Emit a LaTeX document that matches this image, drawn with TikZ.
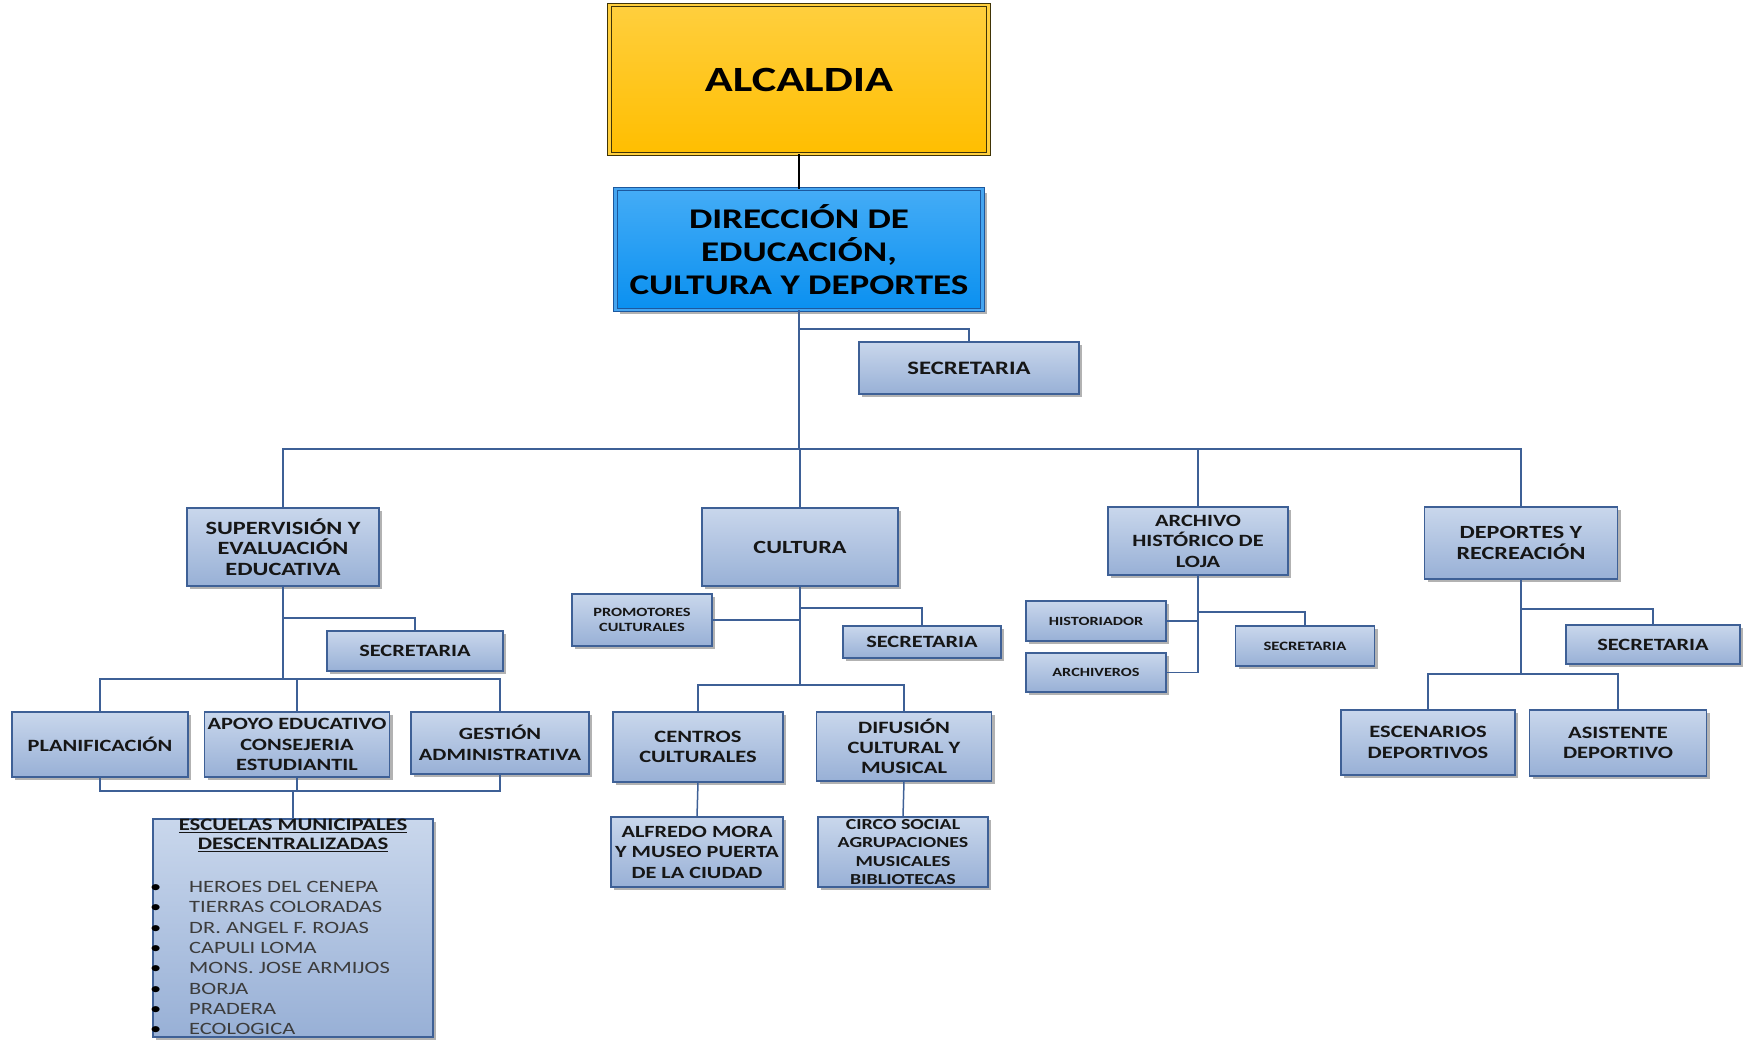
\documentclass[tikz,border=0pt]{standalone}
\usepackage{fontspec}
\setmainfont{Carlito}[FakeStretch=1.3]
\usetikzlibrary{shadows}

\definecolor{boxtop}{RGB}{201,215,236}
\definecolor{boxbot}{RGB}{152,176,214}
\definecolor{boxline}{RGB}{62,96,150}
\definecolor{linecol}{RGB}{62,96,150}
\definecolor{ink}{RGB}{22,22,22}
\definecolor{itemink}{RGB}{60,60,60}
\definecolor{goldtop}{RGB}{255,207,62}
\definecolor{goldbot}{RGB}{255,190,0}
\definecolor{goldline}{RGB}{64,52,6}
\definecolor{skytop}{RGB}{68,172,246}
\definecolor{skybot}{RGB}{10,144,240}
\definecolor{skyline}{RGB}{28,88,158}
\definecolor{skygap}{RGB}{70,165,240}

\newcommand{\fs}[2]{\fontsize{#1}{#2}\selectfont\bfseries}

\tikzset{
  box/.style={draw=boxline, line width=1.3pt, top color=boxtop, bottom color=boxbot,
    drop shadow={shadow xshift=3pt, shadow yshift=-3pt, fill=black, opacity=0.3},
    inner sep=0pt, outer sep=0pt, align=center, text=ink},
  conn/.style={draw=linecol, line width=1.5pt},
  alcbox/.style={draw=goldline, double=goldtop, double distance=2.2pt, line width=1pt,
    top color=goldtop, bottom color=goldbot, inner sep=0pt, outer sep=0pt,
    align=center, text=black},
  dirbox/.style={draw=skyline, double=skygap, double distance=2.4pt, line width=1pt,
    top color=skytop, bottom color=skybot, inner sep=0pt, outer sep=0pt,
    drop shadow={shadow xshift=4pt, shadow yshift=-4pt, fill=black, opacity=0.3},
    align=center, text=black},
}

\begin{document}
\begin{tikzpicture}[x=1pt, y=-1pt]
\useasboundingbox (0,0) rectangle (1748,1039);

% ---------- top levels ----------
\node[alcbox, minimum width=379pt, minimum height=149pt, font=\fs{35.5}{40}] (alc) at (799,79.5) {ALCALDIA};
\node[dirbox, minimum width=367pt, minimum height=121pt, font=\fs{28.5}{33}] (dir) at (799,249.5)
  {DIRECCIÓN DE\\EDUCACIÓN,\\CULTURA Y DEPORTES};
\node[box, minimum width=220pt, minimum height=52pt, font=\fs{19}{22}] (msec) at (969,368) {SECRETARIA};

% ---------- second level ----------
\node[box, minimum width=192pt, minimum height=78pt, font=\fs{18.7}{20.5}] (sup) at (283,547)
  {SUPERVISIÓN Y\\EVALUACIÓN\\EDUCATIVA};
\node[box, minimum width=196pt, minimum height=78pt, font=\fs{18.6}{21}] (cul) at (800,547) {CULTURA};
\node[box, minimum width=180pt, minimum height=68pt, font=\fs{17.2}{20.5}] (arc) at (1198,541)
  {ARCHIVO\\HISTÓRICO DE\\LOJA};
\node[box, minimum width=193pt, minimum height=72pt, font=\fs{18.6}{21}] (dep) at (1521,543)
  {DEPORTES Y\\RECREACIÓN};

% ---------- supervision branch ----------
\node[box, minimum width=176pt, minimum height=40pt, font=\fs{17.2}{20}] (ssec) at (415,651) {SECRETARIA};
\node[box, minimum width=176pt, minimum height=65pt, font=\fs{17.2}{20.5}] (plan) at (100,744.5) {PLANIFICACIÓN};
\node[box, minimum width=185pt, minimum height=65pt, font=\fs{17.2}{20.5}] (apoyo) at (297,744.5)
  {APOYO EDUCATIVO\\CONSEJERIA\\ESTUDIANTIL};
\node[box, minimum width=178pt, minimum height=62pt, font=\fs{17.2}{20.5}] (gest) at (500,743)
  {GESTIÓN\\ADMINISTRATIVA};
\node[box, minimum width=280pt, minimum height=218pt] (esc) at (293,928) {};
\node[font=\fs{17.5}{19}, align=center, text=ink, inner sep=0pt] (esct) at (293,835)
  {\underline{ESCUELAS MUNICIPALES}\\\underline{DESCENTRALIZADAS}};
\node[font=\fontsize{17.3}{20.3}\selectfont, align=left, text=itemink, inner sep=0pt, anchor=west] (escl) at (150,958)
  {\makebox[39pt][l]{\textcolor{black}{\textbullet}}HEROES DEL CENEPA\\
   \makebox[39pt][l]{\textcolor{black}{\textbullet}}TIERRAS COLORADAS\\
   \makebox[39pt][l]{\textcolor{black}{\textbullet}}DR. ANGEL F. ROJAS\\
   \makebox[39pt][l]{\textcolor{black}{\textbullet}}CAPULI LOMA\\
   \makebox[39pt][l]{\textcolor{black}{\textbullet}}MONS. JOSE ARMIJOS\\
   \makebox[39pt][l]{\textcolor{black}{\textbullet}}BORJA\\
   \makebox[39pt][l]{\textcolor{black}{\textbullet}}PRADERA\\
   \makebox[39pt][l]{\textcolor{black}{\textbullet}}ECOLOGICA};

% ---------- culture branch ----------
\node[box, minimum width=140pt, minimum height=52pt, font=\fs{12.6}{15}] (prom) at (642,620)
  {PROMOTORES\\CULTURALES};
\node[box, minimum width=158pt, minimum height=32pt, font=\fs{17.2}{20}] (csec) at (922,642) {SECRETARIA};
\node[box, minimum width=170pt, minimum height=70pt, font=\fs{17.3}{20.5}] (cen) at (698,747)
  {CENTROS\\CULTURALES};
\node[box, minimum width=175pt, minimum height=69pt, font=\fs{17.3}{20}] (dif) at (904,746.5)
  {DIFUSIÓN\\CULTURAL Y\\MUSICAL};
\node[box, minimum width=172pt, minimum height=70pt, font=\fs{17.1}{20.5}] (alf) at (697,852)
  {ALFREDO MORA\\Y MUSEO PUERTA\\DE LA CIUDAD};
\node[box, minimum width=170pt, minimum height=70pt, font=\fs{15.3}{18.3}] (circ) at (903,852)
  {CIRCO SOCIAL\\AGRUPACIONES\\MUSICALES\\BIBLIOTECAS};

% ---------- archive branch ----------
\node[box, minimum width=140pt, minimum height=40pt, font=\fs{12.5}{15}] (his) at (1096,621) {HISTORIADOR};
\node[box, minimum width=140pt, minimum height=39pt, font=\fs{12.5}{15}] (arv) at (1096,672.5) {ARCHIVEROS};
\node[box, minimum width=139pt, minimum height=40pt, font=\fs{12.8}{15}] (asec) at (1305,646) {SECRETARIA};

% ---------- sports branch ----------
\node[box, minimum width=174pt, minimum height=39pt, font=\fs{17.2}{20}] (dsec) at (1653,644.5) {SECRETARIA};
\node[box, minimum width=174pt, minimum height=65pt, font=\fs{17.3}{20.5}] (esce) at (1428,742.5)
  {ESCENARIOS\\DEPORTIVOS};
\node[box, minimum width=177pt, minimum height=66pt, font=\fs{17.3}{20.5}] (asis) at (1618,743)
  {ASISTENTE\\DEPORTIVO};

% ---------- junction levels ----------
\coordinate (ymain) at (0,449);
\coordinate (ymsec) at (0,329);
\coordinate (ysbus) at (0,679);
\coordinate (yssec) at (0,618);
\coordinate (ybbus) at (0,791);
\coordinate (ycbus) at (0,685);
\coordinate (ycsec) at (0,608);
\coordinate (yasec) at (0,612);
\coordinate (ydbus) at (0,674);
\coordinate (ydsec) at (0,609);

% ---------- connectors ----------
\draw[black, line width=1.3pt] (alc.south) -- (dir.north);
\draw[conn] (dir.south) -- (dir.south |- ymain);
\draw[conn] (dir.south |- ymsec) -| (msec.north);
\draw[conn] (sup.north) |- (dep.north |- ymain) -- (dep.north);
\draw[conn] (cul.north) -- (cul.north |- ymain);
\draw[conn] (arc.north) -- (arc.north |- ymain);

\draw[conn] (sup.south) -- (sup.south |- ysbus);
\draw[conn] (sup.south |- yssec) -| (ssec.north);
\draw[conn] (plan.north) |- (gest.north |- ysbus) -- (gest.north);
\draw[conn] (apoyo.north) -- (apoyo.north |- ysbus);
\draw[conn] (plan.south) |- (gest.south |- ybbus) -- (gest.south);
\draw[conn] (apoyo.south) -- (apoyo.south |- ybbus);
\draw[conn] (esc.north) -- (esc.north |- ybbus);

\draw[conn] (cul.south) -- (cul.south |- ycbus);
\draw[conn] (prom.east) -- (prom.east -| cul.south);
\draw[conn] (cul.south |- ycsec) -| (csec.north);
\draw[conn] (cen.north) |- (dif.north |- ycbus) -- (dif.north);
\draw[conn] (cen.south) -- (alf.north);
\draw[conn] (dif.south) -- (circ.north);

\draw[conn] (arc.south) |- (arv.east);
\draw[conn] (his.east) -- (his.east -| arc.south);
\draw[conn] (arc.south |- yasec) -| (asec.north);

\draw[conn] (dep.south) -- (dep.south |- ydbus);
\draw[conn] (dep.south |- ydsec) -| (dsec.north);
\draw[conn] (esce.north) |- (asis.north |- ydbus) -- (asis.north);
\end{tikzpicture}
\end{document}
